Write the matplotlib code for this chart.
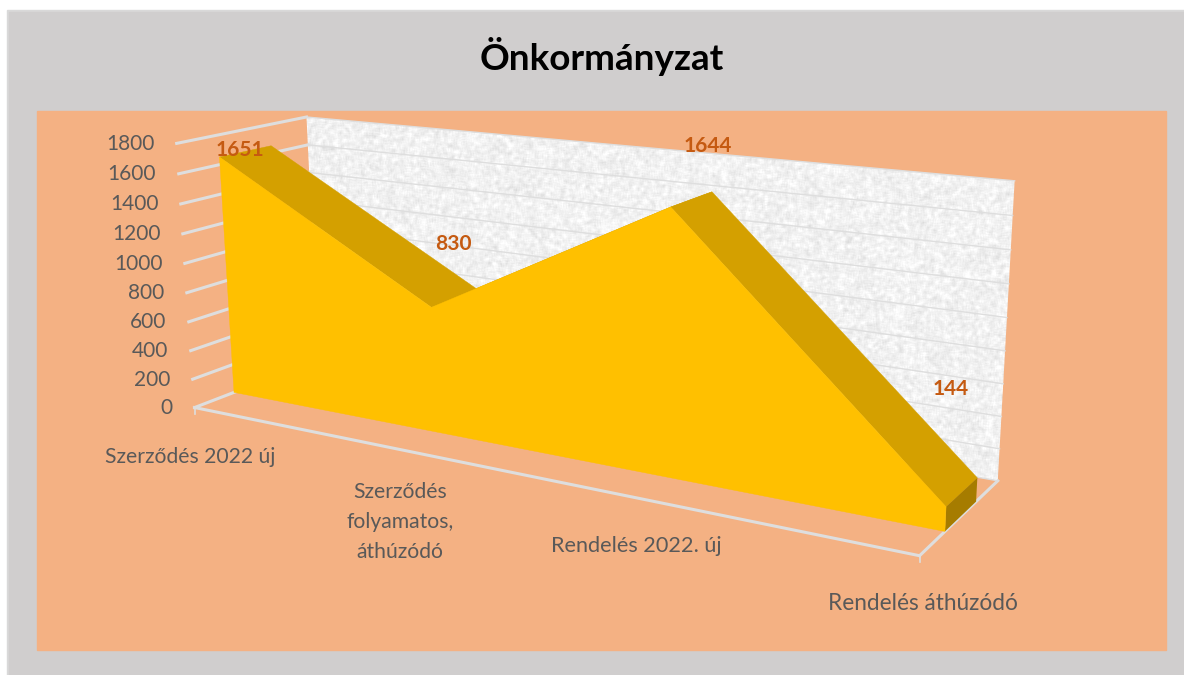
"""Önkormányzat: 3-D area chart drawn through a fitted perspective projection."""
import matplotlib

matplotlib.use("Agg")
import matplotlib.pyplot as plt
import numpy as np
from matplotlib.patches import Polygon, Rectangle

categories = ["Szerződés 2022 új", "Szerződés\nfolyamatos,\náthúzódó",
              "Rendelés 2022. új", "Rendelés áthúzódó"]
values = [1651, 830, 1644, 144]
value_ticks = [0, 200, 400, 600, 800, 1000, 1200, 1400, 1600, 1800]

Z_MAX = 1800
DEPTH_FRONT, DEPTH_BACK = 0.30, 0.70

# box corners (x, depth, height) -> where they sit in the image
CORNERS = [
    ((0, 0, 0), (193, 410)), ((1, 0, 0), (920, 553)),
    ((1, 1, 0), (997, 484)), ((0, 1, 0), (320, 357)),
    ((0, 0, 1), (178, 143)), ((0, 1, 1), (305, 118)),
    ((1, 1, 1), (1015, 180)),
]


def fit_projection(corners):
    rows = []
    for (x, y, z), (u, v) in corners:
        rows.append([x, y, z, 1, 0, 0, 0, 0, -u * x, -u * y, -u * z, -u])
        rows.append([0, 0, 0, 0, x, y, z, 1, -v * x, -v * y, -v * z, -v])
    _, _, vt = np.linalg.svd(np.array(rows, dtype=float))
    return vt[-1].reshape(3, 4)


P = fit_projection(CORNERS)


def proj(x, d, val):
    p = P @ np.array([x, d, val / Z_MAX, 1.0])
    return p[0] / p[2], p[1] / p[2]


def wall_texture(w, h):
    # cheap deterministic speckle, lightly blurred
    yy, xx = np.mgrid[0:h, 0:w]
    s = np.sin(xx * 12.9898 + yy * 78.233) * 43758.5453
    s = s - np.floor(s)
    for axis in (0, 1):
        s = (s + np.roll(s, 1, axis) + np.roll(s, -1, axis) + np.roll(s, 2, axis)) / 4
    return 0.945 + (s - 0.5) * 0.3


def main():
    fig = plt.figure(figsize=(11.84, 6.75), dpi=100)
    plt.rcParams["font.family"] = ["Lato", "DejaVu Sans"]
    ax = fig.add_axes([0, 0, 1, 1])
    ax.set_xlim(0, 1184)
    ax.set_ylim(675, 0)
    ax.axis("off")

    ax.add_patch(Rectangle((7, 10), 1177, 665, color="#D9D9D9", zorder=0))
    ax.add_patch(Rectangle((9, 12), 1175, 663, color="#D0CECE", zorder=0.5))
    ax.add_patch(Rectangle((37, 111), 1129, 539, color="#F4B183", zorder=1))

    # back wall
    wall = Polygon([proj(0, 1, 0), proj(1, 1, 0), proj(1, 1, Z_MAX), proj(0, 1, Z_MAX)],
                   closed=True, fc="none", ec="none", transform=ax.transData)
    ax.add_patch(wall)
    im = ax.imshow(wall_texture(1184, 675), cmap="gray", vmin=0, vmax=1,
                   extent=(0, 1184, 675, 0), aspect="auto", zorder=2)
    im.set_clip_path(wall)
    ax.set_xlim(0, 1184)
    ax.set_ylim(675, 0)

    grid = "#DEDEDE"
    for t in value_ticks:
        pts = [proj(0, 0, t), proj(0, 1, t), proj(1, 1, t)]
        ax.plot(*zip(*pts[:2]), color=grid, lw=2.2, zorder=3)
        ax.plot(*zip(*pts[1:]), color=grid, lw=1.0, zorder=3)
        u, v = proj(0, 0, t)
        ax.text(u - 22.5, v + 6.5, str(t), ha="right", va="baseline", fontsize=15,
                color="#595959", zorder=8)

    # floor outline
    for a, b in [((0, 0), (1, 0)), ((1, 0), (1, 1))]:
        ax.plot(*zip(proj(a[0], a[1], 0), proj(b[0], b[1], 0)), color=grid, lw=2.2, zorder=3)
    for x in (0, 1):
        u, v = proj(x, 0, 0)
        ax.plot([u, u], [v, v + 6], color=grid, lw=1.2, zorder=3)

    xs = np.linspace(0, 1, len(values))

    # top surfaces, far to near
    for i in range(len(values) - 1):
        quad = [proj(xs[i], DEPTH_FRONT, values[i]), proj(xs[i + 1], DEPTH_FRONT, values[i + 1]),
                proj(xs[i + 1], DEPTH_BACK, values[i + 1]), proj(xs[i], DEPTH_BACK, values[i])]
        ax.add_patch(Polygon(quad, closed=True, fc="#D4A000", ec="#D4A000", lw=0.3, zorder=4))

    # right end cap
    cap = [proj(1, DEPTH_FRONT, 0), proj(1, DEPTH_BACK, 0),
           proj(1, DEPTH_BACK, values[-1]), proj(1, DEPTH_FRONT, values[-1])]
    ax.add_patch(Polygon(cap, closed=True, fc="#A67C00", ec="none", zorder=5))

    # front face
    front = [proj(0, DEPTH_FRONT, 0)]
    front += [proj(x, DEPTH_FRONT, v) for x, v in zip(xs, values)]
    front += [proj(1, DEPTH_FRONT, 0)]
    ax.add_patch(Polygon(front, closed=True, fc="#FFC000", ec="#FFC000", lw=0.3, zorder=6))

    # data labels, placed by hand like the chart's own
    label_pos = [(240, 150), (453, 244), (708, 146), (951, 389)]
    for (u, v), val in zip(label_pos, values):
        ax.text(u, v, str(val), ha="center", va="center", fontsize=15,
                fontweight="bold", color="#C55A11", zorder=9)

    cat_pos = [(190, 457), (400, 522), (636, 546), (923, 604)]
    cat_size = [15.2, 15.2, 15.6, 16.3]
    for (u, v), cat, size in zip(cat_pos, categories, cat_size):
        ax.text(u, v, cat, ha="center", va="center", fontsize=size, color="#595959",
                linespacing=1.6, zorder=8)

    ax.text(602, 57, "Önkormányzat", ha="center", va="center", fontsize=26.6,
            fontweight="bold", color="black", zorder=8)

    fig.savefig("out.png", dpi=100)
    plt.close(fig)


if __name__ == "__main__":
    main()
